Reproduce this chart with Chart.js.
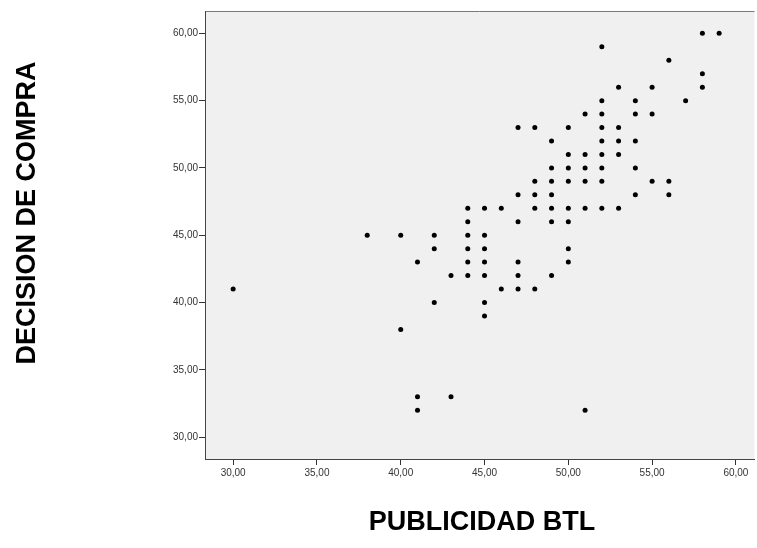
<!DOCTYPE html>
<html>
<head>
<meta charset="utf-8">
<title>Publicidad BTL vs Decision de compra</title>
<script src="https://cdn.jsdelivr.net/npm/chart.js@4"></script>
<style>
    html, body { margin: 0; padding: 0; background: #fff; }
    #scatterChart { display: block; }
</style>
</head>
<body>
<canvas id="scatterChart" width="757" height="548"></canvas>
<script>
'use strict';

// ====== DATA ======
// one entry per respondent, x = PUBLICIDAD BTL, y = DECISION DE COMPRA
const publicidad = [
    58, 59,
    52,
    56,
    58,
    53, 55, 58,
    52, 54, 57,
    51, 52, 54, 55,
    47, 48, 50, 52, 53,
    49, 52, 53, 54,
    50, 51, 52, 53,
    49, 50, 51, 52, 54,
    48, 49, 50, 51, 52, 55, 56,
    47, 48, 49, 54, 56,
    44, 45, 46, 48, 49, 50, 51, 52, 53,
    44, 47, 49, 50,
    38, 40, 42, 44, 45,
    42, 44, 45, 50,
    41, 44, 45, 47, 50,
    43, 44, 45, 47, 49,
    30, 46, 47, 48,
    42, 45,
    45,
    40,
    41, 43,
    41, 51
];
const decision = [
    60, 60,
    59,
    58,
    57,
    56, 56, 56,
    55, 55, 55,
    54, 54, 54, 54,
    53, 53, 53, 53, 53,
    52, 52, 52, 52,
    51, 51, 51, 51,
    50, 50, 50, 50, 50,
    49, 49, 49, 49, 49, 49, 49,
    48, 48, 48, 48, 48,
    47, 47, 47, 47, 47, 47, 47, 47, 47,
    46, 46, 46, 46,
    45, 45, 45, 45, 45,
    44, 44, 44, 44,
    43, 43, 43, 43, 43,
    42, 42, 42, 42, 42,
    41, 41, 41, 41,
    40, 40,
    39,
    38,
    33, 33,
    32, 32
];
const xTicks = [30, 35, 40, 45, 50, 55, 60];
const yTicks = [30, 35, 40, 45, 50, 55, 60];
const xTitle = 'PUBLICIDAD BTL';
const yTitle = 'DECISION DE COMPRA';

// ====== HELPERS ======
function formatComma(v) {
    return Number(v).toFixed(2).replace('.', ',');
}

// plot frame: grey panel + thin top line
const panelPlugin = {
    id: 'panel',
    beforeDraw(chart) {
        const { ctx, chartArea: a } = chart;
        ctx.save();
        ctx.fillStyle = '#f0f0f0';
        ctx.fillRect(a.left, a.top, a.right - a.left, a.bottom - a.top);
        ctx.strokeStyle = '#7a7a7a';
        ctx.lineWidth = 1;
        ctx.beginPath();
        ctx.moveTo(a.left, a.top + 0.5);
        ctx.lineTo(a.right, a.top + 0.5);
        ctx.stroke();
        ctx.restore();
    }
};

// axis titles, placed like the SPSS export
const titlePlugin = {
    id: 'axisTitles',
    afterDraw(chart) {
        const ctx = chart.ctx;
        ctx.save();
        ctx.fillStyle = '#000';
        ctx.font = 'bold 27px Arial, "Liberation Sans", sans-serif';
        ctx.textAlign = 'center';
        ctx.textBaseline = 'alphabetic';
        ctx.fillText(xTitle, 482, 530);
        ctx.translate(35, 213);
        ctx.rotate(-Math.PI / 2);
        ctx.fillText(yTitle, 0, 0);
        ctx.restore();
    }
};

// ====== CHART ======
const points = publicidad.map((x, i) => ({ x, y: decision[i] }));
const tickFont = { family: 'Arial, "Liberation Sans", sans-serif', size: 10 };

new Chart(document.getElementById('scatterChart'), {
    type: 'scatter',
    data: {
        datasets: [{
            data: points,
            backgroundColor: '#000',
            borderWidth: 0,
            pointRadius: 2.5,
            pointHoverRadius: 2.5
        }]
    },
    options: {
        responsive: false,
        animation: false,
        layout: { padding: { top: 11, right: 0, bottom: 0, left: 0 } },
        plugins: {
            legend: { display: false },
            tooltip: { enabled: false }
        },
        scales: {
            x: {
                type: 'linear',
                min: 28.32,
                max: 61.11,
                afterBuildTicks: s => { s.ticks = xTicks.map(v => ({ value: v })); },
                afterFit: s => { s.height = 89; },
                grid: { drawOnChartArea: false, drawTicks: true, tickLength: 6, color: '#333' },
                border: { display: true, color: '#444', width: 1 },
                ticks: { color: '#333', font: tickFont, padding: 2, maxRotation: 0, callback: formatComma }
            },
            y: {
                type: 'linear',
                min: 28.37,
                max: 61.66,
                afterBuildTicks: s => { s.ticks = yTicks.map(v => ({ value: v })); },
                afterFit: s => { s.width = 205; },
                grid: { drawOnChartArea: false, drawTicks: true, tickLength: 6, color: '#333' },
                border: { display: true, color: '#444', width: 1 },
                ticks: { color: '#333', font: tickFont, padding: 1, callback: formatComma }
            }
        }
    },
    plugins: [panelPlugin, titlePlugin]
});
</script>
</body>
</html>
